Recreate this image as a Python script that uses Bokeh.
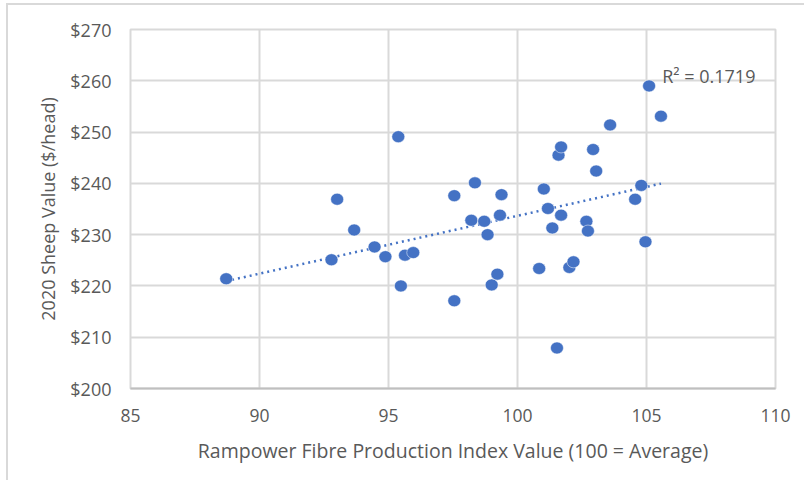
import numpy as np
from bokeh.plotting import figure
from bokeh.models import Range1d, FixedTicker, Label
from bokeh.embed import file_html
from bokeh.resources import INLINE

# Rampower Fibre Production Index Value (x) vs 2020 Sheep Value $/head (y)
index_values = [88.71, 92.79, 93.01, 93.67, 94.46, 94.88, 95.38, 95.48, 95.64, 95.96,
                97.55, 97.55, 98.21, 98.35, 98.71, 98.84, 99.00, 99.22, 99.32, 99.38,
                100.84, 101.02, 101.18, 101.35, 101.53, 101.59, 101.69, 101.69, 102.01, 102.17,
                102.67, 102.73, 102.93, 103.05, 103.59, 104.56, 104.80, 104.96, 105.10, 105.56]
sheep_values = [221.4, 225.1, 236.9, 230.9, 227.6, 225.7, 249.1, 220.0, 226.0, 226.5,
                237.6, 217.1, 232.8, 240.1, 232.6, 230.0, 220.2, 222.3, 233.8, 237.8,
                223.4, 238.9, 235.1, 231.3, 207.9, 245.5, 247.1, 233.8, 223.6, 224.7,
                232.6, 230.7, 246.6, 242.4, 251.4, 236.9, 239.6, 228.6, 259.0, 253.1]
x_ticks = [85, 90, 95, 100, 105, 110]
y_ticks = [200, 210, 220, 230, 240, 250, 260, 270]
r2_label = "R\u00b2 = 0.1719"

BLUE = "#4472C4"
GRID = "#d9d9d9"
TXT = "#595959"
FONT = "Open Sans"

p = figure(width=798, height=477, output_backend="svg", toolbar_location=None,
           x_range=Range1d(85, 110), y_range=Range1d(200, 270),
           min_border_left=122, min_border_right=31, min_border_top=24, min_border_bottom=94)
p.styles = {"margin-left": "6px", "margin-top": "3px",
            "border-left": "2px solid #d9d9d9", "border-top": "2px solid #d9d9d9"}
p.background_fill_color = "white"
p.border_fill_color = "white"
p.outline_line_color = GRID
p.outline_line_width = 2

p.xaxis.ticker = FixedTicker(ticks=x_ticks)
p.yaxis.ticker = FixedTicker(ticks=y_ticks)
p.yaxis.major_label_overrides = {v: f"${v}" for v in y_ticks}

for ax in (p.xaxis[0], p.yaxis[0]):
    ax.major_tick_line_color = None
    ax.minor_tick_line_color = None
    ax.major_label_text_font = FONT
    ax.major_label_text_color = TXT
    ax.axis_label_text_font = FONT
    ax.axis_label_text_font_style = "normal"
    ax.axis_label_text_color = TXT

p.xaxis.major_label_text_font_size = "17.5px"
p.yaxis.major_label_text_font_size = "18px"
p.xaxis.axis_label_text_font_size = "19.5px"
p.yaxis.axis_label_text_font_size = "18px"

p.xaxis.axis_line_color = "#bfbfbf"
p.xaxis.axis_line_width = 2
p.yaxis.axis_line_color = None
p.xaxis.major_label_standoff = 14
p.yaxis.major_label_standoff = 13
p.xaxis.axis_label_standoff = 12
p.yaxis.axis_label_standoff = 7
p.xaxis.axis_label = "Rampower Fibre Production Index Value (100 = Average)"
p.yaxis.axis_label = "2020 Sheep Value ($/head)"

p.xgrid.grid_line_color = GRID
p.xgrid.grid_line_width = 2
p.ygrid.grid_line_color = GRID
p.ygrid.grid_line_width = 2

# linear trendline from the data
xs = np.array(index_values)
ys = np.array(sheep_values)
slope, intercept = np.polyfit(xs, ys, 1)
tx = np.array([xs.min(), xs.max()])
p.line(tx, slope * tx + intercept, line_color=BLUE, line_width=2.5, line_dash="2 4")

p.ellipse(x=index_values, y=sheep_values, width=13, height=12,
          width_units="screen", height_units="screen",
          fill_color=BLUE, line_color="white", line_width=0.5)

p.add_layout(Label(x=105.61, y=261, text=r2_label, text_font=FONT, text_font_size="18px",
                   text_color=TXT, text_baseline="middle", text_align="left"))

open("out.html", "w").write(file_html(p, INLINE))
